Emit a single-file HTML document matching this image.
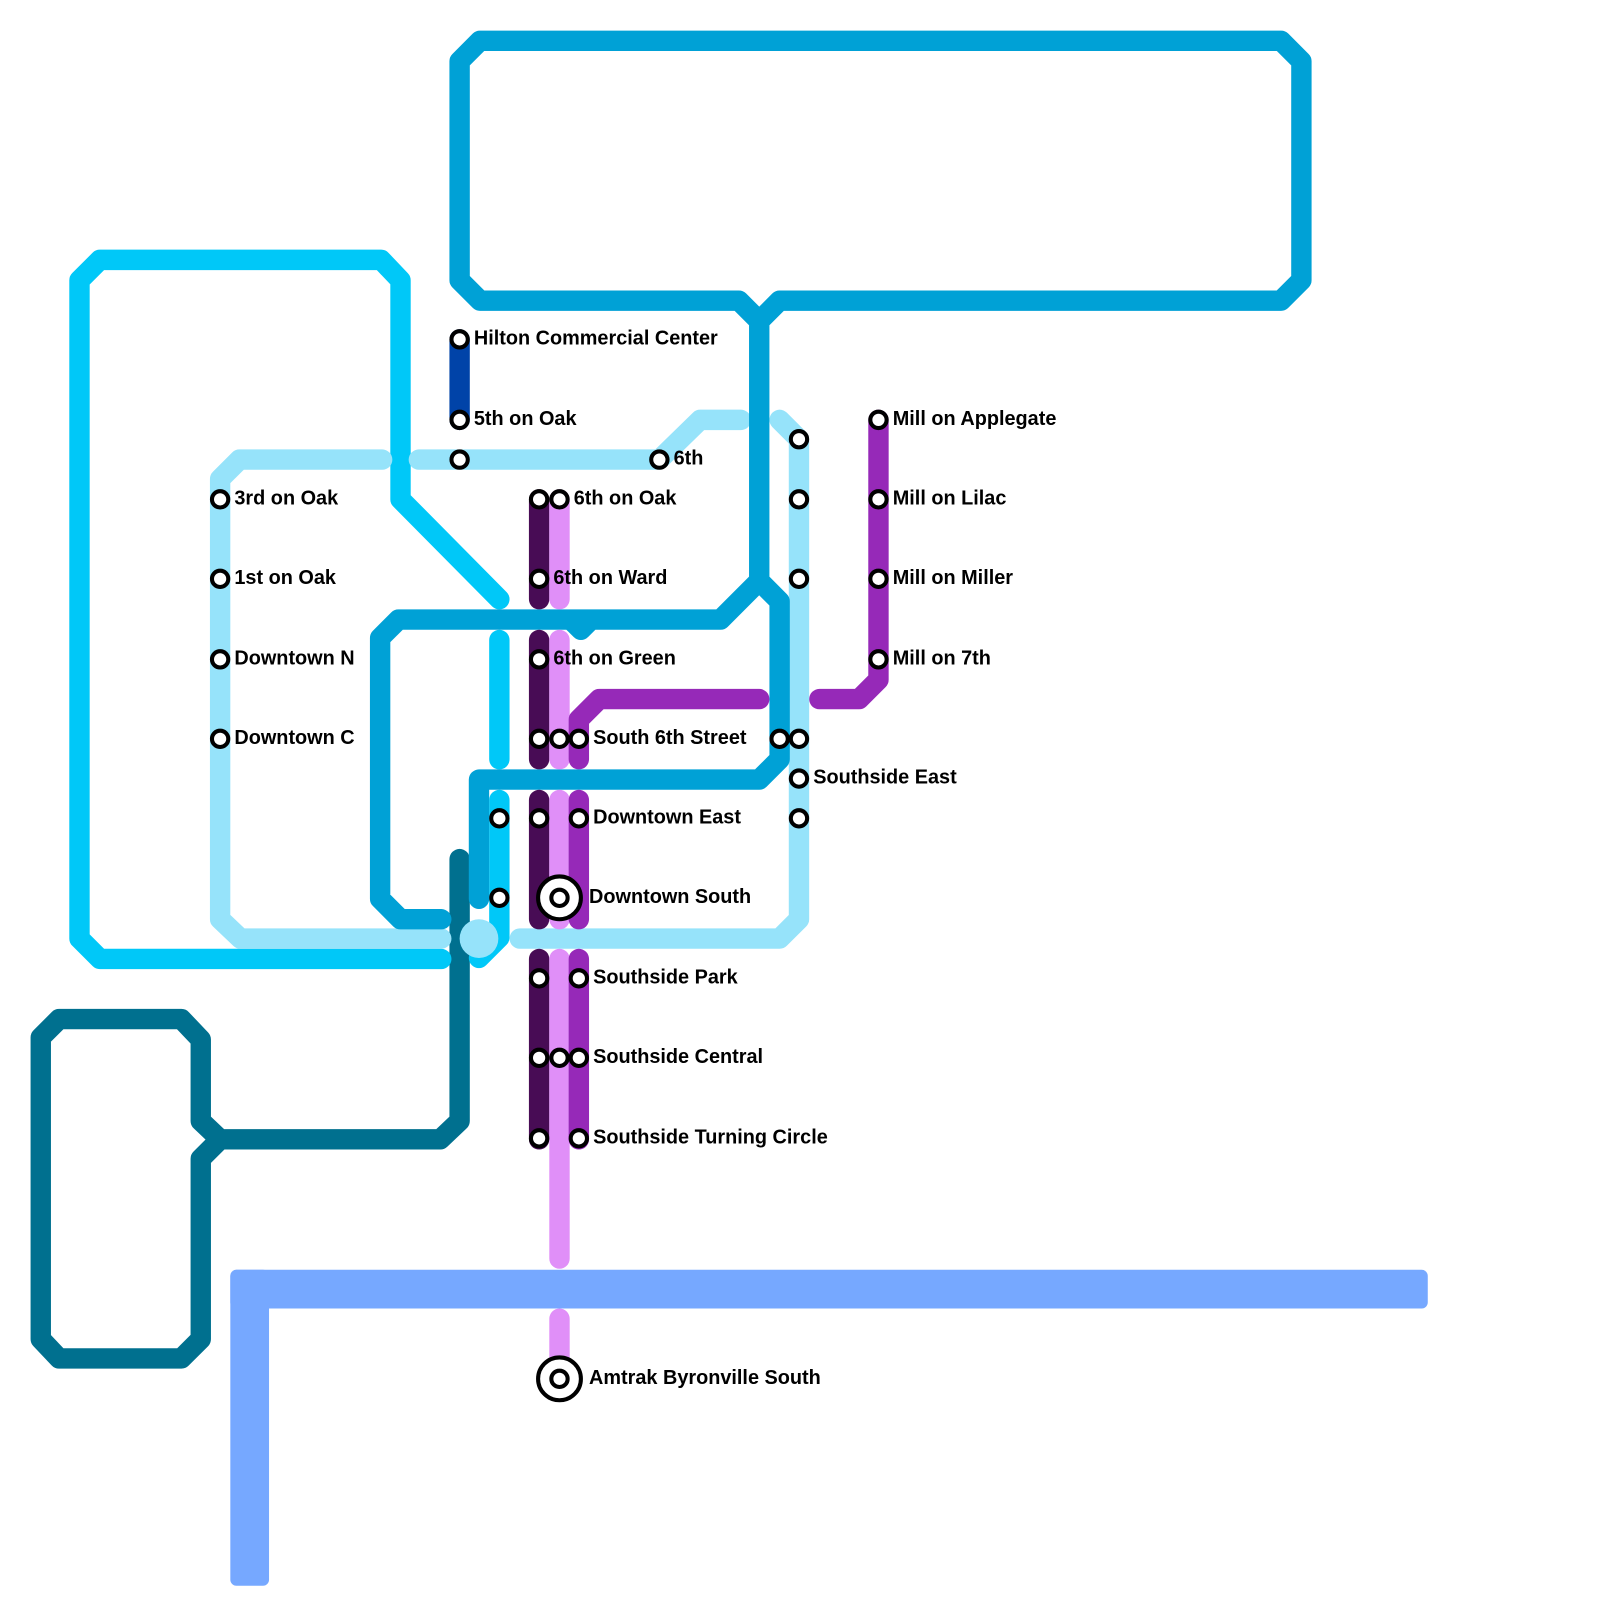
<!DOCTYPE html>
<html><head><style>body{margin:0;background:#fff}svg{display:block}text{font-family:"Liberation Sans",Arial,sans-serif;font-weight:bold;font-size:19.5px;fill:#000}</style></head><body>
<svg width="1600" height="1600" viewBox="0 0 1570 1570">
<g fill="none" stroke-width="20" stroke-linecap="round" stroke-linejoin="round">
<path stroke="#00708f" d="M451,843V1100L432,1118H216L197,1100V1020L178,1000H58L40,1018V1314L58,1333H178L197,1314V1137L216,1118"/>
<path stroke="#00c8f8" d="M433,941H98L78,921V275L98,255H374L393,275V490L490,588M490,628V745M490,785V920L470,940"/>
<path stroke="#96e3fa" d="M375,451H235L216,470V902L236,921H433M411,451H647L687,412H727M765,412L784,431V902L765,921H510"/>
<path stroke="#00a1d6" d="M745,315L725,295H471L451,275V60L471,40H1257L1277,60V275L1257,295H765L745,315V570L707,608H391L373,626V882L393,902H433M745,570L765,590V745L745,765H470V882M560,608L570,618L580,608"/>
<path stroke="#0043a8" d="M451,333V412"/>
<path stroke="#480c55" d="M529,490V588M529,628V745M529,785V902M529,941V1118"/>
<path stroke="#e08ff8" d="M549,490V588M549,628V745M549,785V902M549,941V1235M549,1294V1333"/>
<path stroke="#9629b8" d="M568,745V706L588,686H745M568,785V902M568,941V1118M804,686H843L862,667V412"/>
</g>
<circle cx="470" cy="921" r="19" fill="#96e3fa"/>
<rect x="226" y="1246" width="1175" height="38" rx="6" fill="#76a8ff"/>
<rect x="226" y="1246" width="38" height="310" rx="6" fill="#76a8ff"/>
<g fill="#fff" stroke="#000" stroke-width="4">
<circle cx="451" cy="333" r="8"/><circle cx="451" cy="412" r="8"/><circle cx="451" cy="451" r="8"/><circle cx="647" cy="451" r="8"/>
<circle cx="216" cy="490" r="8"/><circle cx="216" cy="568" r="8"/><circle cx="216" cy="647" r="8"/><circle cx="216" cy="725" r="8"/>
<circle cx="529" cy="490" r="8"/><circle cx="549" cy="490" r="8"/><circle cx="529" cy="568" r="8"/><circle cx="529" cy="647" r="8"/>
<circle cx="529" cy="725" r="8"/><circle cx="549" cy="725" r="8"/><circle cx="568" cy="725" r="8"/>
<circle cx="765" cy="725" r="8"/><circle cx="784" cy="725" r="8"/>
<circle cx="784" cy="431" r="8"/><circle cx="784" cy="490" r="8"/><circle cx="784" cy="568" r="8"/><circle cx="784" cy="764" r="8"/><circle cx="784" cy="803" r="8"/>
<circle cx="862" cy="412" r="8"/><circle cx="862" cy="490" r="8"/><circle cx="862" cy="568" r="8"/><circle cx="862" cy="647" r="8"/>
<circle cx="490" cy="803" r="8"/><circle cx="529" cy="803" r="8"/><circle cx="568" cy="803" r="8"/><circle cx="490" cy="881" r="8"/>
<circle cx="529" cy="960" r="8"/><circle cx="568" cy="960" r="8"/>
<circle cx="529" cy="1038" r="8"/><circle cx="549" cy="1038" r="8"/><circle cx="568" cy="1038" r="8"/>
<circle cx="529" cy="1117" r="8"/><circle cx="568" cy="1117" r="8"/>
<circle cx="549" cy="881" r="21"/><circle cx="549" cy="881" r="8"/>
<circle cx="549" cy="1353" r="21"/><circle cx="549" cy="1353" r="8"/>
</g>
<text x="465" y="338">Hilton Commercial Center</text>
<text x="465" y="417">5th on Oak</text>
<text x="661" y="456">6th</text>
<text x="230" y="495">3rd on Oak</text>
<text x="230" y="573">1st on Oak</text>
<text x="230" y="652">Downtown N</text>
<text x="230" y="730">Downtown C</text>
<text x="563" y="495">6th on Oak</text>
<text x="543" y="573">6th on Ward</text>
<text x="543" y="652">6th on Green</text>
<text x="582" y="730">South 6th Street</text>
<text x="876" y="417">Mill on Applegate</text>
<text x="876" y="495">Mill on Lilac</text>
<text x="876" y="573">Mill on Miller</text>
<text x="876" y="652">Mill on 7th</text>
<text x="798" y="769">Southside East</text>
<text x="582" y="808">Downtown East</text>
<text x="578" y="886">Downtown South</text>
<text x="582" y="965">Southside Park</text>
<text x="582" y="1043">Southside Central</text>
<text x="582" y="1122">Southside Turning Circle</text>
<text x="578" y="1358">Amtrak Byronville South</text>
</svg>
</body></html>
